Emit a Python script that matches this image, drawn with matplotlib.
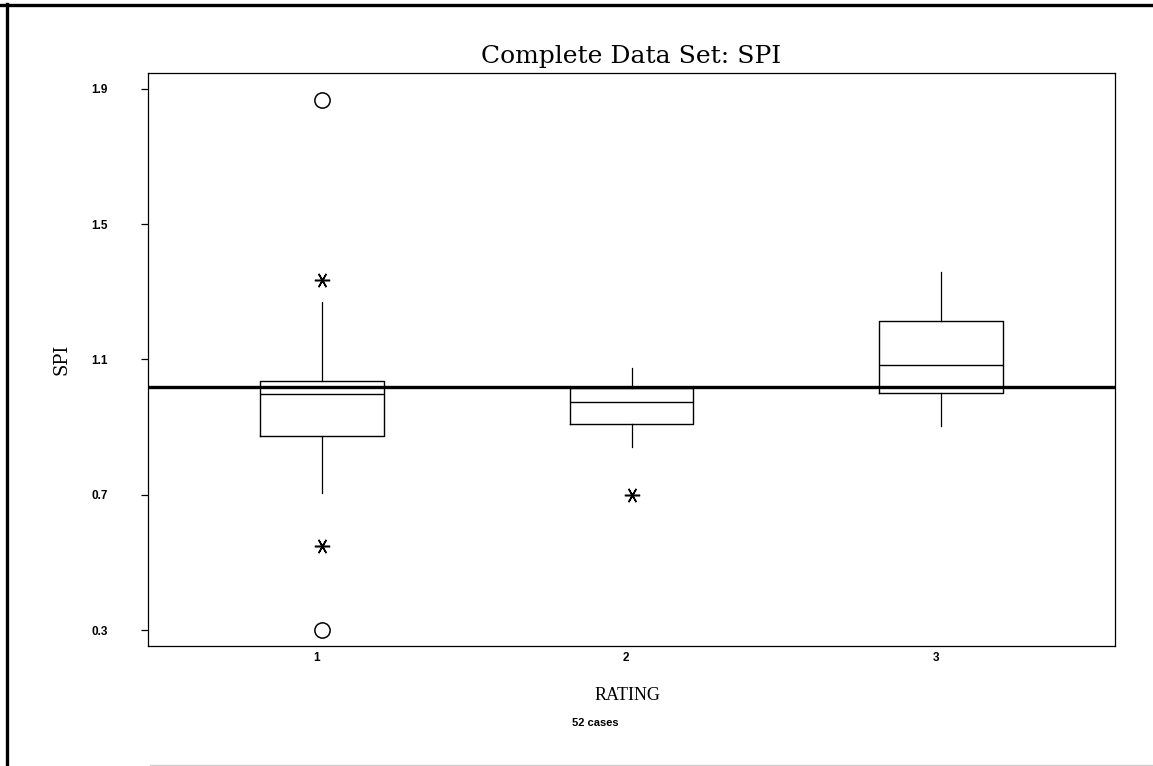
import numpy as np
import matplotlib
matplotlib.use('Agg')
import matplotlib.pyplot as plt
from matplotlib.lines import Line2D

## values
ratings = [1, 2, 3]
q1_vals = [0.874, 0.909, 1.001]
med_vals = [0.998, 0.975, 1.084]
q3_vals = [1.037, 1.016, 1.214]
whis_lo = [0.705, 0.841, 0.904]
whis_hi = [1.270, 1.075, 1.359]
outlier_x = [1, 1, 2]            # asterisks
outlier_y = [1.335, 0.549, 0.700]
extreme_x = [1, 1]               # open circles
extreme_y = [1.868, 0.300]
ref_level = 1.02
yticks = [0.3, 0.7, 1.1, 1.5, 1.9]
n_cases = 52

serif = ['DejaVu Serif']
sans = ['Liberation Sans', 'DejaVu Sans']

fig = plt.figure(figsize=(11.53, 7.66), dpi=100)
ax = fig.add_axes([148/1153, 1-646/766, (1115-148)/1153, (646-73)/766])

stats = []
for i in range(len(ratings)):
    stats.append(dict(med=med_vals[i], q1=q1_vals[i], q3=q3_vals[i],
                      whislo=whis_lo[i], whishi=whis_hi[i], fliers=[]))

ax.bxp(stats, positions=ratings, widths=0.40, showcaps=False, showfliers=False,
       boxprops=dict(color='black', linewidth=1.0),
       medianprops=dict(color='black', linewidth=1.0),
       whiskerprops=dict(color='black', linewidth=0.9))

ax.plot(outlier_x, outlier_y, linestyle='none', marker=(6, 2, 90),
        markersize=11, markeredgewidth=1.1, color='black')
ax.plot(extreme_x, extreme_y, linestyle='none', marker='o', markersize=11,
        markerfacecolor='none', markeredgecolor='black', markeredgewidth=1.1)

ax.axhline(ref_level, color='black', linewidth=2.4, zorder=1)

ax.set_xlim(0.44, 3.56)
ax.set_ylim(0.253, 1.947)
ax.set_yticks(yticks)
ax.set_yticklabels(['%.1f' % v for v in yticks], family=sans, fontweight='bold', fontsize=8.5)
ax.set_xticks([r - 0.017 for r in ratings])
ax.set_xticklabels([str(r) for r in ratings], family=sans, fontweight='bold', fontsize=8.5)
ax.tick_params(axis='y', length=5, width=0.9, pad=24)
ax.tick_params(axis='x', length=0, pad=4)
for s in ax.spines.values():
    s.set_linewidth(0.9)

ax.set_title('Complete Data Set: SPI', family=serif, fontsize=18, pad=7)
ax.set_ylabel('SPI', family=serif, fontsize=13, va='center')
ax.yaxis.set_label_coords(-86/967, 0.5)
ax.set_xlabel('RATING', family=['Liberation Serif'], fontsize=13, va='center')
ax.xaxis.set_label_coords(0.5 - 4/967, -49/573)
fig.text(595/1153, 1-723/766, '%d cases' % n_cases, family=sans, fontweight='bold',
         fontsize=8, ha='center', va='center')

## scanned page frame
fig.add_artist(Line2D([0, 1], [1-5/766, 1-5/766], color='black', linewidth=2.4))
fig.add_artist(Line2D([7/1153, 7/1153], [0, 1-4/766], color='black', linewidth=2.4))
fig.add_artist(Line2D([0.13, 1], [1.5/766, 1.5/766], color='#cfcfcf', linewidth=1.0))

fig.savefig('out.png', dpi=100)
